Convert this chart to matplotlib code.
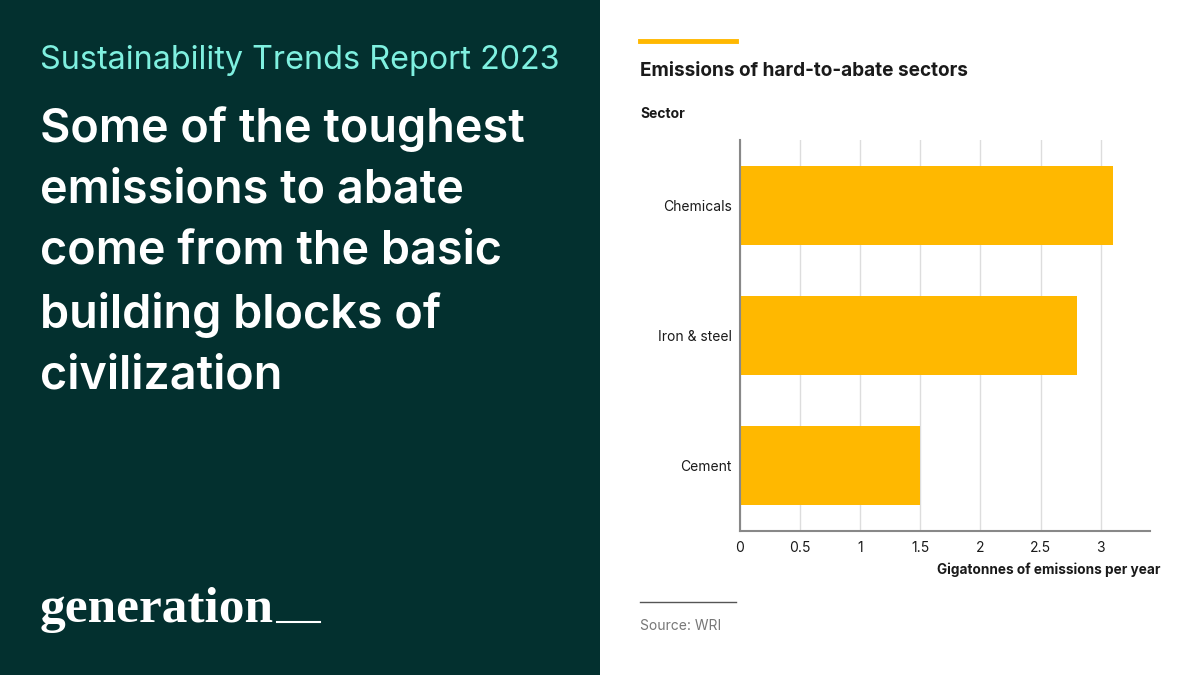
"""Emissions of hard-to-abate sectors - Sustainability Trends Report 2023 slide"""
import matplotlib
matplotlib.use('Agg')
import matplotlib.pyplot as plt
from matplotlib.lines import Line2D
from matplotlib.patches import Rectangle

# data
sectors = ["Cement", "Iron & steel", "Chemicals"]
emissions = [1.5, 2.8, 3.1]  # gigatonnes per year
xticks = [0, 0.5, 1, 1.5, 2, 2.5, 3]
xtick_labels = ["0", "0.5", "1", "1.5", "2", "2.5", "3"]

# colours
bg_dark = '#03302f'
teal = '#7ff0e0'
bar_c = '#ffb800'
grid_c = '#dddddd'
spine_c = '#888888'
txt_c = '#1a1a1a'

plt.rcParams['font.family'] = ['Inter', 'DejaVu Sans']

fig = plt.figure(figsize=(12, 6.75), dpi=100, facecolor='w')

# dark left panel
fig.patches.append(Rectangle((0, 0), 0.5, 1, transform=fig.transFigure,
                             facecolor=bg_dark, edgecolor='none', zorder=0))

fig.text(40/1200, 1 - 60/675, "Sustainability Trends Report 2023", color=teal,
         fontsize=23.3, va='center', ha='left')
fig.text(40/1200, 1 - 106/675,
         "Some of the toughest\nemissions to abate\ncome from the basic\nbuilding blocks of\ncivilization",
         color='white', fontsize=33.7, fontweight='semibold', va='top', ha='left',
         linespacing=1.5)
fig.text(40/1200, 1 - 622/675, "generation", color='white', fontsize=37,
         family='Liberation Serif', fontweight='bold', va='baseline', ha='left')
fig.lines.append(Line2D([277/1200, 320/1200], [1 - 622/675, 1 - 622/675],
                        transform=fig.transFigure, color='white', lw=1.5))

# right panel heading
fig.lines.append(Line2D([640/1200, 736/1200], [1 - 41/675, 1 - 41/675],
                        transform=fig.transFigure, color=bar_c, lw=3.5))
fig.text(640/1200, 1 - 71/675, "Emissions of hard-to-abate sectors", color=txt_c,
         fontsize=13.7, fontweight='bold', va='center', ha='left')
fig.text(640/1200, 1 - 114/675, "Sector", color=txt_c,
         fontsize=10, fontweight='bold', va='center', ha='left')

# chart
ax = fig.add_axes([740/1200, 1 - 531/675, 410/1200, 391/675])
ax.barh(range(len(sectors)), emissions, height=0.605, color=bar_c, zorder=2)
ax.set_xlim(0, 3.41)
ax.set_ylim(-0.5, 2.5)
ax.set_yticks(range(len(sectors)))
ax.set_yticklabels(sectors)
ax.set_xticks(xticks)
ax.set_xticklabels(xtick_labels)
ax.xaxis.grid(True, color=grid_c, lw=1, zorder=0)
ax.set_axisbelow(True)
for s in ['top', 'right']:
    ax.spines[s].set_visible(False)
for s in ['left', 'bottom']:
    ax.spines[s].set_color(spine_c)
    ax.spines[s].set_linewidth(1.5)
ax.tick_params(axis='both', length=0, labelsize=10, labelcolor=txt_c)
ax.tick_params(axis='x', pad=7)
ax.tick_params(axis='y', pad=6)

fig.text(1160/1200, 1 - 570/675, "Gigatonnes of emissions per year", color=txt_c,
         fontsize=9.8, fontweight='bold', va='center', ha='right')

# source
fig.lines.append(Line2D([640/1200, 736/1200], [1 - 602/675, 1 - 602/675],
                        transform=fig.transFigure, color='#555555', lw=1))
fig.text(640/1200, 1 - 626/675, "Source: WRI", color='#777777',
         fontsize=10, va='center', ha='left')

fig.savefig('out.png', dpi=100, facecolor=fig.get_facecolor())
